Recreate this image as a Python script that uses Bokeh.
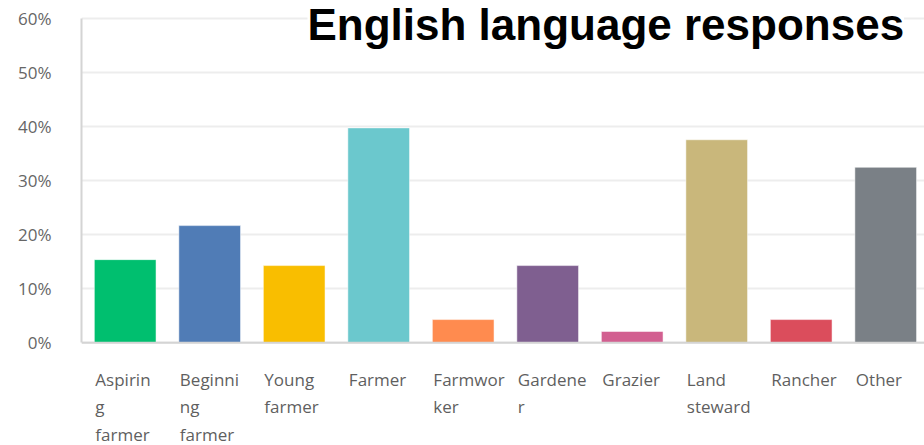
from bokeh.plotting import figure
from bokeh.models import Range1d, FixedTicker, Label, Span
from bokeh.core.properties import value
from bokeh.embed import file_html
from bokeh.resources import INLINE

categories = ["Aspiring farmer", "Beginning farmer", "Young farmer", "Farmer", "Farmworker",
              "Gardener", "Grazier", "Land steward", "Rancher", "Other"]
tick_labels = ["Aspirin\ng\nfarmer", "Beginni\nng\nfarmer", "Young\nfarmer", "Farmer", "Farmwor\nker",
               "Gardene\nr", "Grazier", "Land\nsteward", "Rancher", "Other"]
values = [15.4, 21.7, 14.3, 39.8, 4.3, 14.3, 2.1, 37.6, 4.3, 32.5]
colors = ["#00bf6f", "#507cb6", "#f9be00", "#6bc8cd", "#ff8b4f",
          "#7f5f90", "#d25f90", "#c9b77b", "#db4d5c", "#7a8086"]
y_ticks = [0, 10, 20, 30, 40, 50, 60]
title_text = "English language responses"

xs = list(range(len(categories)))
bar_w = 0.73
px_per_unit = 324 / 60.0
label_gap_px = 25

p = figure(width=924, height=445, output_backend="svg", toolbar_location=None,
           x_axis_location=None,
           x_range=Range1d(-0.517, 9.459),
           y_range=Range1d(-102.7 / px_per_unit, 60 + 18.3 / px_per_unit),
           min_border_left=81, min_border_top=0, min_border_right=0, min_border_bottom=0)
p.outline_line_color = None
p.background_fill_color = "white"
p.border_fill_color = "white"

p.vbar(x=xs, top=values, width=bar_w, fill_color=colors, line_color="white", line_alpha=0.5, line_width=1)

p.xgrid.visible = False
p.ygrid.grid_line_color = "#ededed"
p.ygrid.grid_line_width = 2
p.ygrid.ticker = FixedTicker(ticks=y_ticks)

p.add_layout(Span(location=0, dimension="width", line_color="#d4d4d4", line_width=2))

p.yaxis.ticker = FixedTicker(ticks=y_ticks)
p.yaxis.bounds = (0, 60)
p.yaxis.major_label_overrides = {t: f"{t}%" for t in y_ticks}
p.yaxis.axis_line_color = "#d4d4d4"
p.yaxis.axis_line_width = 2
p.yaxis.major_tick_line_color = None
p.yaxis.minor_tick_line_color = None
p.yaxis.major_label_standoff = 24
p.yaxis.major_label_text_font = "Open Sans"
p.yaxis.major_label_text_font_size = "17px"
p.yaxis.major_label_text_color = "#666666"

p.text(x=[x - bar_w / 2 for x in xs], y=[-label_gap_px / px_per_unit] * len(xs), text=tick_labels,
       x_offset=1, text_font=value("Open Sans"), text_font_size="17px", text_color="#5f5f5f",
       text_align="left", text_baseline="top", text_line_height=1.2)

title = Label(x=226, y=421, x_units="screen", y_units="screen", text=title_text,
              text_font="Liberation Sans", text_font_style="bold", text_font_size="44px",
              text_color="black", text_baseline="alphabetic", text_align="left",
              background_fill_color="white", padding=0)
p.add_layout(title)

open("out.html", "w").write(file_html(p, INLINE))
